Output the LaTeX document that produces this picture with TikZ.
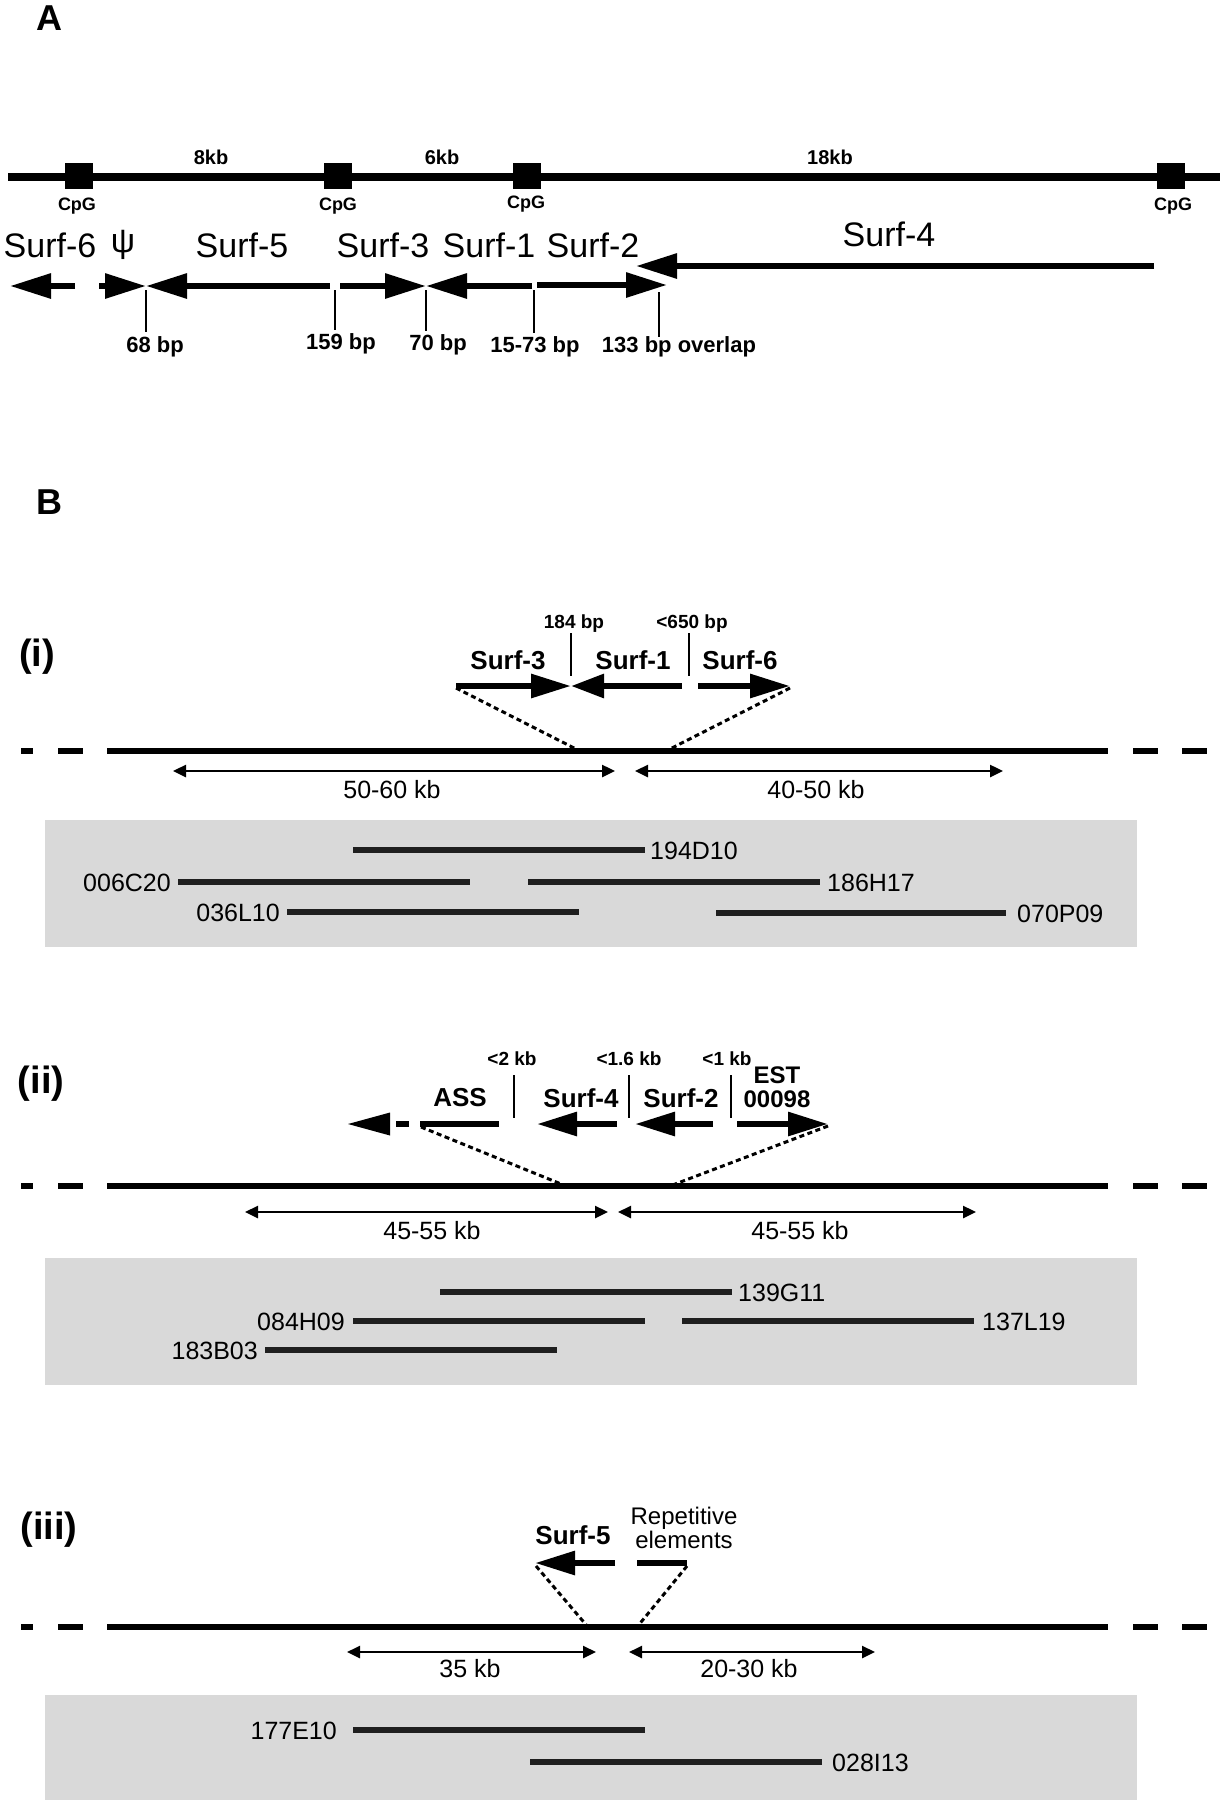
\documentclass[tikz,border=0pt]{standalone}
\usepackage{fontspec}
\setmainfont{Liberation Sans}
\usetikzlibrary{arrows.meta}
\definecolor{boxgray}{RGB}{217,217,217}
\newcommand\myfs[1]{\fontsize{#1}{#1}\selectfont}
\tikzset{
  chrom/.style={line width=8pt},
  mline/.style={line width=5.5pt},
  gline/.style={line width=6pt},
  gene/.style={line width=6pt,-{Triangle[length=41pt,width=24pt]}},
  genei/.style={line width=6pt,-{Triangle[length=40pt,width=23pt]}},
  tickl/.style={line width=1.3pt},
  dots/.style={line width=3pt,dash pattern=on 5pt off 3.5pt},
  span/.style={line width=2.5pt,{Triangle[length=13pt,width=12pt]}-{Triangle[length=13pt,width=12pt]}},
  clone/.style={line width=6pt,black!88},
  cpgbox/.style={fill=black,minimum width=28pt,minimum height=26pt,inner sep=0pt},
  cpg/.style={font=\myfs{18}\bfseries},
  kb/.style={font=\myfs{20}\bfseries},
  big/.style={font=\myfs{34}},
  bp/.style={font=\myfs{22}\bfseries},
  bps/.style={font=\myfs{19}\bfseries},
  gname/.style={font=\myfs{26}\bfseries},
  spanlab/.style={font=\myfs{25}},
  clab/.style={font=\myfs{25}},
  panel/.style={font=\myfs{36}\bfseries},
  roman/.style={font=\myfs{38}\bfseries},
  graybox/.style={fill=boxgray,draw=none}
}
\begin{document}
\begin{tikzpicture}[x=1pt,y=-1pt]
\useasboundingbox (0,0) rectangle (1222,1800);
\fill[white] (0,0) rectangle (1222,1800);

% ===== Panel A =====
\node[panel] (A) at (49,18) {A};
\draw[chrom] (8,177) -- (1220,177);
\node[cpgbox] (c1) at (79,176) {};
\node[cpgbox] (c2) at (338,176) {};
\node[cpgbox] (c3) at (527,176) {};
\node[cpgbox] (c4) at (1171,176) {};
\node[cpg] (c1l) at (77,206) {CpG};
\node[cpg] (c2l) at (338,206) {CpG};
\node[cpg] (c3l) at (526,204) {CpG};
\node[cpg] (c4l) at (1173,206) {CpG};
\node[kb] (k8) at (211,157) {8kb};
\node[kb] (k6) at (442,157) {6kb};
\node[kb] (k18) at (830,157) {18kb};

\node[big] (s6) at (50,245) {Surf-6};
\node[big] (psi) at (123,245) {ψ};
\node[big] (s5) at (242,245) {Surf-5};
\node[big] (s3) at (383,245) {Surf-3};
\node[big] (s1) at (489,245) {Surf-1};
\node[big] (s2) at (593,245) {Surf-2};
\node[big] (s4) at (889,234) {Surf-4};

\draw[gene] (75,286) -- (10,286);
\draw[gene] (99,286) -- (146,286);
\draw[gene] (330,286) -- (146,286);
\draw[gene] (340,286) -- (426,286);
\draw[gene] (532,286) -- (426,286);
\draw[gene] (537,285) -- (667,285);
\draw[gene] (1154,266) -- (636,266);

\coordinate (t1) at (146,290);
\coordinate (t2) at (335,290);
\coordinate (t3) at (426,290);
\coordinate (t4) at (534,290);
\coordinate (t5) at (659,292);
\node[bp] (b1) at (155,347) {68 bp};
\node[bp] (b2) at (341,344) {159 bp};
\node[bp] (b3) at (438,345) {70 bp};
\node[bp] (b4) at (535,347) {15-73 bp};
\node[bp] (b5) at (679,347) {133 bp overlap};
\draw[tickl] (t1) -- (146,332);
\draw[tickl] (t2) -- (335,330);
\draw[tickl] (t3) -- (426,331);
\draw[tickl] (t4) -- (534,333);
\draw[tickl] (t5) -- (659,337);

% ===== Panel B =====
\node[panel] (B) at (49,502) {B};

% ---- (i) ----
\node[roman] (ri) at (37,657) {(i)};
\node[bps] (i184) at (574,624) {184 bp};
\node[bps] (i650) at (692,624) {<650 bp};
\draw[tickl] (571,633) -- (571,676);
\draw[tickl] (689,633) -- (689,676);
\node[gname] (is3) at (508,660) {Surf-3};
\node[gname] (is1) at (633,660) {Surf-1};
\node[gname] (is6) at (740,660) {Surf-6};
\draw[genei] (456,686) -- (571,686);
\draw[line width=6pt,-{Triangle[length=33pt,width=23pt]}] (682,686) -- (571,686);
\draw[genei] (698,686) -- (790,686);
\coordinate (ia) at (456,688);
\coordinate (ib) at (578,750);
\coordinate (ic) at (790,688);
\coordinate (id) at (668,750);
\draw[dots] (ia) -- (ib);
\draw[dots] (ic) -- (id);
\draw[mline] (107,751) -- (1108,751);
\draw[mline] (21,751) -- (33,751);
\draw[mline] (58,751) -- (83,751);
\draw[mline] (1133,751) -- (1158,751);
\draw[mline] (1182,751) -- (1207,751);
\draw[span] (173,771) -- (615,771);
\draw[span] (635,771) -- (1003,771);
\node[spanlab] (il) at (392,790) {50-60 kb};
\node[spanlab] (ir) at (816,790) {40-50 kb};
\fill[graybox] (45,820) rectangle (1137,947);
\draw[clone] (353,850) -- (645,850);
\node[clab,anchor=west,inner sep=0pt] (cl1) at (650,851) {194D10};
\draw[clone] (178,882) -- (470,882);
\node[clab,anchor=east,inner sep=0pt] (cl2) at (171,883) {006C20};
\draw[clone] (528,882) -- (820,882);
\node[clab,anchor=west,inner sep=0pt] (cl3) at (827,883) {186H17};
\draw[clone] (287,912) -- (579,912);
\node[clab,anchor=east,inner sep=0pt] (cl4) at (280,913) {036L10};
\draw[clone] (716,913) -- (1006,913);
\node[clab,anchor=west,inner sep=0pt] (cl5) at (1017,914) {070P09};

% ---- (ii) ----
\node[roman] (rii) at (41,1084) {(ii)};
\node[bps] (ii2) at (512,1059) {<2 kb};
\node[bps] (ii16) at (629,1059) {<1.6 kb};
\node[bps] (ii1) at (727,1059) {<1 kb};
\draw[tickl] (514,1075) -- (514,1118);
\draw[tickl] (629,1075) -- (629,1118);
\draw[tickl] (731,1075) -- (731,1118);
\node[gname] (iiass) at (460,1098) {ASS};
\node[gname] (iis4) at (581,1098) {Surf-4};
\node[gname] (iis2) at (681,1098) {Surf-2};
\node[font=\myfs{24}\bfseries,align=center] (iiest) at (777,1087) {\fontsize{24}{28}\selectfont EST\\00098};
\fill (348,1124) -- (390,1112.5) -- (390,1135.5) -- cycle;
\draw[gline] (396,1124) -- (409,1124);
\draw[gline] (420,1124) -- (499,1124);
\draw[genei] (617,1124) -- (537,1124);
\draw[genei] (713,1124) -- (635,1124);
\draw[genei] (737,1124) -- (828,1124);
\coordinate (iia) at (421,1127);
\coordinate (iib) at (566,1186);
\coordinate (iic) at (828,1126);
\coordinate (iid) at (670,1186);
\draw[dots] (iia) -- (iib);
\draw[dots] (iic) -- (iid);
\draw[mline] (107,1186) -- (1108,1186);
\draw[mline] (21,1186) -- (33,1186);
\draw[mline] (58,1186) -- (83,1186);
\draw[mline] (1133,1186) -- (1158,1186);
\draw[mline] (1182,1186) -- (1207,1186);
\draw[span] (245,1212) -- (608,1212);
\draw[span] (618,1212) -- (976,1212);
\node[spanlab] (iil) at (432,1231) {45-55 kb};
\node[spanlab] (iir) at (800,1231) {45-55 kb};
\fill[graybox] (45,1258) rectangle (1137,1385);
\draw[clone] (440,1292) -- (732,1292);
\node[clab,anchor=west,inner sep=0pt] (d1) at (738,1293) {139G11};
\draw[clone] (353,1321) -- (645,1321);
\node[clab,anchor=east,inner sep=0pt] (d2) at (345,1322) {084H09};
\draw[clone] (682,1321) -- (974,1321);
\node[clab,anchor=west,inner sep=0pt] (d3) at (982,1322) {137L19};
\draw[clone] (265,1350) -- (557,1350);
\node[clab,anchor=east,inner sep=0pt] (d4) at (258,1351) {183B03};

% ---- (iii) ----
\node[roman] (riii) at (49,1530) {(iii)};
\node[gname] (iiis5) at (573,1535) {Surf-5};
\node[font=\myfs{24},align=center] (iiirep) at (684,1528) {\fontsize{24}{26}\selectfont Repetitive\\elements};
\draw[genei] (615,1563) -- (535,1563);
\draw[gline] (637,1563) -- (687,1563);
\coordinate (iiia) at (536,1566);
\coordinate (iiib) at (588,1627);
\coordinate (iiic) at (687,1566);
\coordinate (iiid) at (637,1627);
\draw[dots] (iiia) -- (iiib);
\draw[dots] (iiic) -- (iiid);
\draw[mline] (107,1627) -- (1108,1627);
\draw[mline] (21,1627) -- (33,1627);
\draw[mline] (58,1627) -- (83,1627);
\draw[mline] (1133,1627) -- (1158,1627);
\draw[mline] (1182,1627) -- (1207,1627);
\draw[span] (347,1652) -- (596,1652);
\draw[span] (629,1652) -- (875,1652);
\node[spanlab] (iiil) at (470,1669) {35 kb};
\node[spanlab] (iiir) at (749,1669) {20-30 kb};
\fill[graybox] (45,1695) rectangle (1137,1800);
\draw[clone] (353,1730) -- (645,1730);
\node[clab,anchor=east,inner sep=0pt] (e1) at (337,1731) {177E10};
\draw[clone] (530,1762) -- (822,1762);
\node[clab,anchor=west,inner sep=0pt] (e2) at (832,1763) {028I13};
\end{tikzpicture}
\end{document}
